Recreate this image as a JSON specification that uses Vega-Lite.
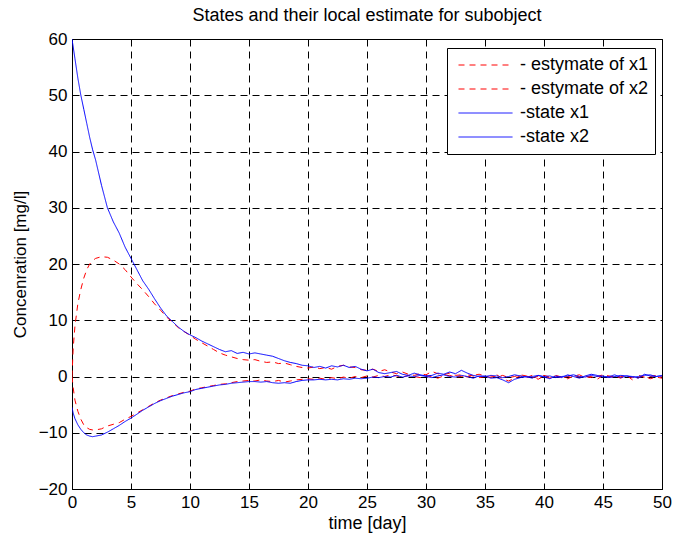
{
  "$schema": "https://vega.github.io/schema/vega-lite/v6.json",
  "autosize": {"type": "none"},
  "padding": {"left": 72, "top": 39, "right": 12, "bottom": 49},
  "width": 590,
  "height": 450,
  "background": "white",
  "title": {"text": "States and their local estimate for subobject", "fontSize": 18, "fontWeight": "normal", "color": "black", "anchor": "middle", "offset": 5, "font": "Liberation Sans"},
  "data": {"values": [
    {"t":0,"e1":0,"e2":0,"x1":60,"x2":-5.5},
    {"t":0.1,"e1":5,"e2":-2,"x1":58.6,"x2":-6.5},
    {"t":0.25,"e1":9,"e2":-4.2,"x1":56.5,"x2":-7.5},
    {"t":0.5,"e1":13,"e2":-6.2,"x1":53,"x2":-8.6},
    {"t":0.75,"e1":15.5,"e2":-7.6,"x1":50,"x2":-9.4},
    {"t":1,"e1":17.5,"e2":-8.6,"x1":47.5,"x2":-10},
    {"t":1.25,"e1":19,"e2":-9.1,"x1":45,"x2":-10.4},
    {"t":1.5,"e1":20,"e2":-9.4,"x1":42.5,"x2":-10.6},
    {"t":1.75,"e1":20.6,"e2":-9.5,"x1":40.3,"x2":-10.7},
    {"t":2,"e1":21,"e2":-9.5,"x1":38.5,"x2":-10.6},
    {"t":2.5,"e1":21.3,"e2":-9.3,"x1":34,"x2":-10.4},
    {"t":3,"e1":21.2,"e2":-8.8,"x1":30,"x2":-9.9},
    {"t":3.5,"e1":20.7,"e2":-8.5,"x1":27.5,"x2":-9.3},
    {"t":4,"e1":20,"e2":-8.2,"x1":25.5,"x2":-8.7},
    {"t":4.5,"e1":19,"e2":-7.6,"x1":23,"x2":-8.0},
    {"t":5,"e1":17.7,"e2":-7.1,"x1":21,"x2":-7.4},
    {"t":5.5,"e1":16.5,"e2":-6.5,"x1":19,"x2":-6.7},
    {"t":6,"e1":15.4,"e2":-5.9,"x1":17,"x2":-6.0},
    {"t":6.5,"e1":14.2,"e2":-5.3,"x1":15.5,"x2":-5.4},
    {"t":7,"e1":12.9,"e2":-4.7,"x1":13.8,"x2":-4.8},
    {"t":7.5,"e1":11.8,"e2":-4.2,"x1":12.2,"x2":-4.3},
    {"t":8,"e1":10.6,"e2":-3.8,"x1":10.8,"x2":-3.9},
    {"t":8.5,"e1":9.7,"e2":-3.4,"x1":9.8,"x2":-3.5},
    {"t":9,"e1":8.7,"e2":-3.1,"x1":8.8,"x2":-3.2},
    {"t":9.5,"e1":8.0,"e2":-2.8,"x1":8,"x2":-2.9},
    {"t":10,"e1":7.3,"e2":-2.6,"x1":7.4,"x2":-2.7},
    {"t":10.5,"e1":6.6,"e2":-2.2,"x1":6.9,"x2":-2.3},
    {"t":11,"e1":6.0,"e2":-2.0,"x1":6.3,"x2":-2.1},
    {"t":11.5,"e1":5.4,"e2":-1.8,"x1":5.8,"x2":-1.9},
    {"t":12,"e1":4.8,"e2":-1.6,"x1":5.3,"x2":-1.7},
    {"t":12.5,"e1":4.2,"e2":-1.4,"x1":4.8,"x2":-1.5},
    {"t":13,"e1":3.8,"e2":-1.3,"x1":4.4,"x2":-1.4},
    {"t":13.5,"e1":3.5,"e2":-1.1,"x1":4.6,"x2":-1.2},
    {"t":14,"e1":3.2,"e2":-0.9,"x1":4.1,"x2":-1.1},
    {"t":14.5,"e1":3.0,"e2":-0.8,"x1":4.3,"x2":-1.0},
    {"t":15,"e1":2.9,"e2":-0.7,"x1":4.0,"x2":-0.9},
    {"t":15.5,"e1":3.0,"e2":-0.8,"x1":4.2,"x2":-0.9},
    {"t":16,"e1":2.7,"e2":-0.6,"x1":4.0,"x2":-1.0},
    {"t":16.5,"e1":2.5,"e2":-0.8,"x1":3.8,"x2":-0.9},
    {"t":17,"e1":2.6,"e2":-0.9,"x1":3.6,"x2":-1.1},
    {"t":17.5,"e1":2.3,"e2":-0.7,"x1":3.2,"x2":-1.2},
    {"t":18,"e1":2.4,"e2":-1.0,"x1":2.8,"x2":-1.1},
    {"t":18.5,"e1":2.1,"e2":-0.8,"x1":2.5,"x2":-1.2},
    {"t":19,"e1":1.8,"e2":-0.6,"x1":2.3,"x2":-0.9},
    {"t":19.5,"e1":1.6,"e2":-0.5,"x1":2.0,"x2":-0.7},
    {"t":20,"e1":1.5,"e2":-0.4,"x1":1.9,"x2":-0.6},
    {"t":20.5,"e1":1.7,"e2":-0.5,"x1":1.6,"x2":-0.6},
    {"t":21,"e1":1.4,"e2":-0.3,"x1":1.8,"x2":-0.5},
    {"t":21.5,"e1":1.6,"e2":-0.5,"x1":1.5,"x2":-0.6},
    {"t":22,"e1":1.3,"e2":-0.2,"x1":1.9,"x2":-0.5},
    {"t":22.5,"e1":1.8,"e2":-0.4,"x1":1.7,"x2":-0.6},
    {"t":23,"e1":2.0,"e2":-0.1,"x1":2.0,"x2":-0.4},
    {"t":23.5,"e1":1.7,"e2":-0.3,"x1":1.6,"x2":-0.5},
    {"t":24,"e1":1.6,"e2":0.0,"x1":1.8,"x2":-0.3},
    {"t":24.5,"e1":1.2,"e2":-0.2,"x1":1.3,"x2":-0.4},
    {"t":25,"e1":1.1,"e2":0.1,"x1":1.0,"x2":-0.3},
    {"t":25.5,"e1":1.3,"e2":-0.1,"x1":1.3,"x2":-0.1},
    {"t":26,"e1":0.9,"e2":0.2,"x1":0.7,"x2":-0.2},
    {"t":26.5,"e1":1.2,"e2":0.0,"x1":0.5,"x2":0.0},
    {"t":27,"e1":0.8,"e2":0.3,"x1":0.7,"x2":-0.1},
    {"t":27.5,"e1":0.5,"e2":0.1,"x1":0.9,"x2":0.2},
    {"t":28,"e1":0.8,"e2":-0.1,"x1":0.4,"x2":-0.1},
    {"t":28.5,"e1":0.4,"e2":0.2,"x1":0.2,"x2":0.1},
    {"t":29,"e1":0.2,"e2":0.0,"x1":0.6,"x2":0.0},
    {"t":29.5,"e1":0.5,"e2":-0.2,"x1":0.3,"x2":0.2},
    {"t":30,"e1":0.3,"e2":0.1,"x1":0.1,"x2":0.0},
    {"t":30.5,"e1":0.9,"e2":0.0,"x1":0.2,"x2":-0.2},
    {"t":31,"e1":0.5,"e2":-0.3,"x1":0.6,"x2":0.1},
    {"t":31.5,"e1":0.3,"e2":0.1,"x1":0.4,"x2":0.3},
    {"t":32,"e1":0.6,"e2":0.2,"x1":0.8,"x2":0.0},
    {"t":32.5,"e1":0.2,"e2":-0.1,"x1":0.5,"x2":-0.1},
    {"t":33,"e1":0.3,"e2":0.0,"x1":1.1,"x2":0.2},
    {"t":33.5,"e1":-0.1,"e2":0.3,"x1":0.6,"x2":0.0},
    {"t":34,"e1":0.2,"e2":0.1,"x1":0.2,"x2":-0.3},
    {"t":34.5,"e1":0.4,"e2":-0.2,"x1":0.0,"x2":0.1},
    {"t":35,"e1":0.1,"e2":0.0,"x1":0.1,"x2":0.0},
    {"t":35.5,"e1":-0.2,"e2":0.1,"x1":-0.3,"x2":0.2},
    {"t":36,"e1":0.3,"e2":-0.1,"x1":-0.2,"x2":0.1},
    {"t":36.5,"e1":-0.4,"e2":0.2,"x1":-0.6,"x2":-0.2},
    {"t":37,"e1":-0.8,"e2":-0.2,"x1":-1.1,"x2":0.0},
    {"t":37.5,"e1":-0.3,"e2":0.0,"x1":-0.5,"x2":0.3},
    {"t":38,"e1":0.1,"e2":0.3,"x1":-0.2,"x2":0.1},
    {"t":38.5,"e1":-0.2,"e2":0.1,"x1":0.0,"x2":-0.1},
    {"t":39,"e1":0.2,"e2":-0.2,"x1":-0.3,"x2":0.0},
    {"t":39.5,"e1":-0.5,"e2":0.0,"x1":0.2,"x2":0.2},
    {"t":40,"e1":0.1,"e2":0.2,"x1":-0.1,"x2":0.0},
    {"t":40.5,"e1":-0.3,"e2":-0.1,"x1":-0.4,"x2":0.1},
    {"t":41,"e1":0.2,"e2":0.1,"x1":0.1,"x2":-0.2},
    {"t":41.5,"e1":-0.1,"e2":-0.3,"x1":-0.2,"x2":0.0},
    {"t":42,"e1":-0.4,"e2":0.0,"x1":0.3,"x2":0.1},
    {"t":42.5,"e1":0.1,"e2":0.2,"x1":0.0,"x2":0.3},
    {"t":43,"e1":0.3,"e2":-0.1,"x1":-0.3,"x2":0.0},
    {"t":43.5,"e1":-0.2,"e2":0.1,"x1":0.1,"x2":-0.1},
    {"t":44,"e1":0.0,"e2":-0.2,"x1":0.4,"x2":0.2},
    {"t":44.5,"e1":-0.5,"e2":0.0,"x1":0.2,"x2":0.0},
    {"t":45,"e1":0.2,"e2":0.3,"x1":-0.1,"x2":0.1},
    {"t":45.5,"e1":-0.1,"e2":0.1,"x1":0.0,"x2":-0.2},
    {"t":46,"e1":0.1,"e2":-0.2,"x1":0.3,"x2":0.0},
    {"t":46.5,"e1":-0.3,"e2":0.0,"x1":-0.2,"x2":0.2},
    {"t":47,"e1":0.2,"e2":0.1,"x1":0.1,"x2":0.1},
    {"t":47.5,"e1":-0.6,"e2":-0.2,"x1":0.0,"x2":-0.1},
    {"t":48,"e1":-0.2,"e2":0.2,"x1":-0.3,"x2":0.0},
    {"t":48.5,"e1":0.1,"e2":-0.1,"x1":0.4,"x2":0.2},
    {"t":49,"e1":-0.4,"e2":0.0,"x1":0.1,"x2":0.3},
    {"t":49.5,"e1":-0.1,"e2":0.2,"x1":0.0,"x2":0.0},
    {"t":50,"e1":-0.3,"e2":-0.1,"x1":0.2,"x2":0.1}
  ]},
  "transform": [{"fold": ["e1", "e2", "x1", "x2"], "as": ["key", "v"]}],
  "mark": {"type": "line", "strokeWidth": 1, "clip": true},
  "encoding": {
    "x": {"field": "t", "type": "quantitative", "scale": {"domain": [0, 50], "nice": false, "zero": false},
      "axis": {"values": [0,5,10,15,20,25,30,35,40,45,50], "title": "time [day]", "titleX": 295, "titleY": 34, "titleBaseline": "middle", "titleFontSize": 18}},
    "y": {"field": "v", "type": "quantitative", "scale": {"domain": [-20, 60], "nice": false, "zero": false},
      "axis": {"values": [-20,-10,0,10,20,30,40,50,60], "title": "Concenration [mg/l]", "titleX": -52, "titleY": 225, "titleBaseline": "middle", "titleAngle": -90}},
    "color": {"field": "key", "type": "nominal",
      "scale": {"domain": ["e1", "e2", "x1", "x2"], "range": ["#ff0000", "#ff0000", "#0000ff", "#0000ff"]},
      "legend": {"labelExpr": "{'e1':'- estymate of x1','e2':'- estymate of x2','x1':'-state x1','x2':'-state x2'}[datum.label]"}},
    "strokeDash": {"field": "key", "type": "nominal",
      "scale": {"domain": ["e1", "e2", "x1", "x2"], "range": [[6, 5], [6, 5], [1, 0], [1, 0]]},
      "legend": {"labelExpr": "{'e1':'- estymate of x1','e2':'- estymate of x2','x1':'-state x1','x2':'-state x2'}[datum.label]"}}
  },
  "config": {
    "font": "Liberation Sans",
    "view": {"stroke": "black", "strokeWidth": 1},
    "axis": {
      "domainColor": "black", "domainWidth": 1,
      "grid": true, "gridColor": "black", "gridDash": [7, 5], "gridWidth": 1, "gridOpacity": 1,
      "ticks": false, "labelColor": "black", "labelFontSize": 17, "labelFont": "Liberation Sans", "labelPadding": 5,
      "labelFlush": false, "labelOverlap": false,
      "titleFontSize": 17, "titleFont": "Liberation Sans", "titleFontWeight": "normal", "titleColor": "black"
    },
    "axisX": {"labelPadding": 5},
    "legend": {
      "orient": "none", "legendX": 375, "legendY": 9, "title": null,
      "strokeColor": "black", "fillColor": "white", "padding": 6,
      "symbolType": "stroke", "symbolSize": 2916, "symbolStrokeWidth": 1, "symbolOffset": 5,
      "labelOffset": 7, "labelFontSize": 18, "labelFont": "Liberation Sans", "labelColor": "black",
      "clipHeight": 22, "rowPadding": 2, "cornerRadius": 0
    }
  }
}
